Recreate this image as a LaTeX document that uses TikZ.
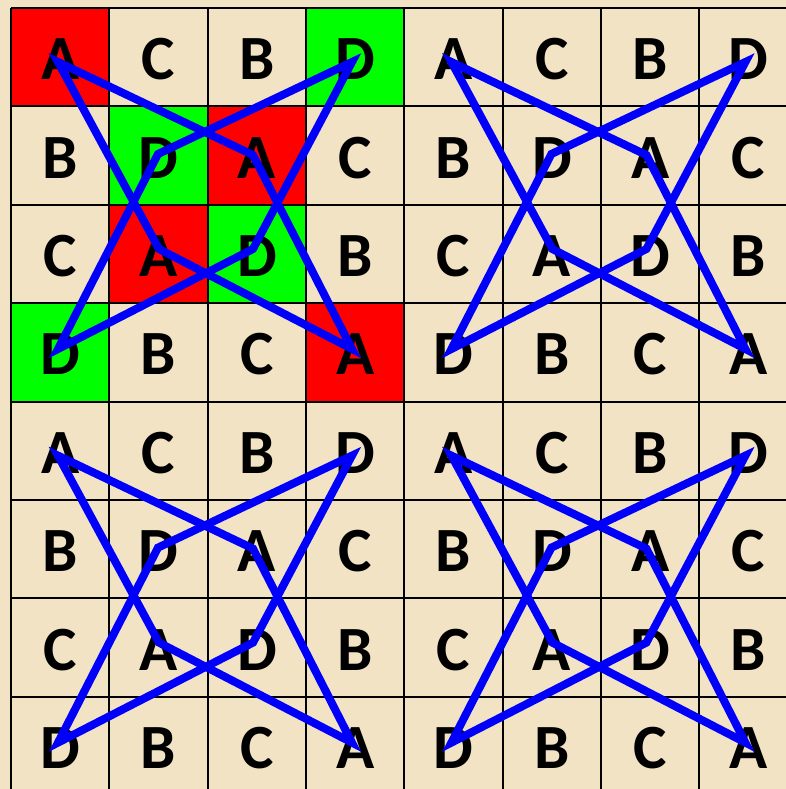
\documentclass[tikz,border=0pt]{standalone}
\usepackage{fontspec}
\setmainfont{Carlito}
\definecolor{parch}{RGB}{242,227,197}
\definecolor{cellred}{RGB}{255,0,0}
\definecolor{cellgreen}{RGB}{0,255,0}
\definecolor{starblue}{RGB}{0,0,250}
\tikzset{
  letter/.style={font=\fontsize{63}{63}\selectfont\bfseries, text=black, inner sep=0pt, anchor=center},
  gridline/.style={draw=black, line width=2pt},
  starline/.style={draw=starblue, line width=8pt, line join=miter, miter limit=4}
}
\begin{document}
\begin{tikzpicture}[x=1pt,y=-1pt]
\useasboundingbox (0,0) rectangle (786,789);
\clip (0,0) rectangle (786,789);
\fill[parch] (0,0) rectangle (786,789);
\def\ox{11}\def\oy{8}\def\cw{98.35}\def\ch{98.4}
% coloured cells
\foreach \c/\r in {0/0,2/1,1/2,3/3}
  \fill[cellred] (\ox+\c*\cw,\oy+\r*\ch) rectangle ++(\cw,\ch);
\foreach \c/\r in {3/0,1/1,2/2,0/3}
  \fill[cellgreen] (\ox+\c*\cw,\oy+\r*\ch) rectangle ++(\cw,\ch);
% grid
\foreach \i in {0,...,8} {
  \draw[gridline] (\ox+\i*\cw,\oy) -- (\ox+\i*\cw,\oy+8*\ch);
  \draw[gridline] (\ox,\oy+\i*\ch) -- (\ox+8*\cw,\oy+\i*\ch);
}
% letters
\foreach \bx in {0,1} {
  \foreach \by in {0,1} {
    \foreach \r/\row in {0/{A,C,B,D},1/{B,D,A,C},2/{C,A,D,B},3/{D,B,C,A}} {
      \foreach \L [count=\c from 0] in \row {
        \node[letter] (L-\bx-\by-\r-\c) at (\ox+\bx*4*\cw+\c*\cw+0.5*\cw, \oy+\by*4*\ch+\r*\ch+0.5*\ch+2) {\L};
      }
    }
  }
}
% stars
\foreach \bx in {0,1} {
  \foreach \by in {0,1} {
    \begin{scope}[shift={(\bx*4*\cw,\by*4*\ch)}]
      \coordinate (TL-\bx-\by) at (58,62);
      \coordinate (TR-\bx-\by) at (352,62);
      \coordinate (BR-\bx-\by) at (352,349);
      \coordinate (BL-\bx-\by) at (58,349);
      \coordinate (Dt-\bx-\by) at (158,154);
      \coordinate (At-\bx-\by) at (253,155);
      \coordinate (Ab-\bx-\by) at (159,249);
      \coordinate (Db-\bx-\by) at (253,249);
    \end{scope}
    \draw[starline] (TL-\bx-\by) -- (At-\bx-\by) -- (BR-\bx-\by) -- (Ab-\bx-\by) -- cycle;
    \draw[starline] (TR-\bx-\by) -- (Dt-\bx-\by) -- (BL-\bx-\by) -- (Db-\bx-\by) -- cycle;
  }
}
\end{tikzpicture}
\end{document}
